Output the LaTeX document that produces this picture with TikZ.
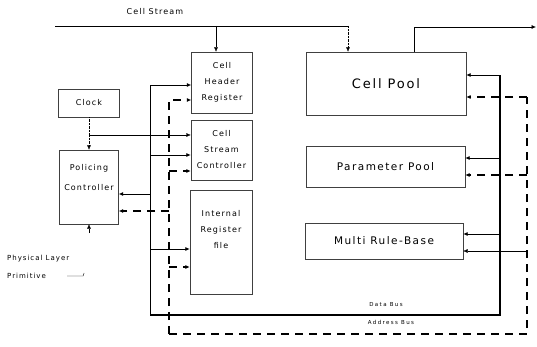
\documentclass[tikz,border=0pt]{standalone}
\usepackage{fontspec}
\setmainfont{DejaVu Sans}
\newfontfamily\spacedfont[LetterSpace=14]{DejaVu Sans}
\newfontfamily\widefont[LetterSpace=25]{DejaVu Sans}
\usetikzlibrary{arrows.meta,calc}
\tikzset{
  blk/.style={draw=black!75, thin, inner sep=0pt, align=center, font=\spacedfont\fontsize{8}{16}\selectfont},
  poolblk/.style={blk, font=\spacedfont\fontsize{10.5}{12}\selectfont},
  note/.style={inner sep=0pt, font=\spacedfont\fontsize{7}{9}\selectfont},
  busnote/.style={inner sep=0pt, font=\widefont\fontsize{5.5}{7}\selectfont},
  dbus/.style={draw=black, line width=1.3pt},
  dline/.style={draw=black, line width=0.8pt},
  abus/.style={draw=black, line width=1.2pt, dash pattern=on 8pt off 6pt},
  arrow/.style={-{Latex[length=4.5pt,width=4pt]}}
}

\begin{document}
\begin{tikzpicture}[x=1pt, y=-1pt]
  \useasboundingbox (0,0) rectangle (537,347);
  \node[blk, minimum width=61pt, minimum height=28pt] (clk) at (89,103) {Clock};
  \node[blk, minimum width=59pt, minimum height=74pt, text depth=20pt] (pol) at (89,187) {Policing\\[4pt]Controller};
  \node[blk, minimum width=61pt, minimum height=61pt] (hdr) at (222,82.5) {Cell\\Header\\Register};
  \node[blk, minimum width=61pt, minimum height=60pt] (csc) at (221.5,150) {Cell\\Stream\\Controller};
  \node[blk, minimum width=62pt, minimum height=104pt, text depth=26pt] (irf) at (221,242) {Internal\\Register\\file};
  \node[poolblk, minimum width=160pt, minimum height=63pt, font=\spacedfont\fontsize{13}{15}\selectfont] (pool) at (386,83.5) {Cell Pool};
  \node[poolblk, minimum width=159pt, minimum height=41pt] (ppool) at (385.5,166.5) {Parameter Pool};
  \node[poolblk, minimum width=158pt, minimum height=36pt] (mrb) at (384,241) {Multi Rule-Base};
  \node[note, font=\spacedfont\fontsize{8}{9}\selectfont] (cslbl) at (155,12) {Cell Stream};
  \node[note, anchor=west] (phys) at (7,259) {Physical Layer};
  \node[note, anchor=west] (prim) at (7,276) {Primitive};
  \node[busnote] (dlbl) at (386,305) {Data Bus};
  \node[busnote] (albl) at (391,322) {Address Bus};

  \coordinate (csA) at (55,26);
  \coordinate (csB) at (348,26);
  \coordinate (csH) at (216,26);
  \coordinate (poA) at (414,27);
  \coordinate (poB) at (536,27);
  \coordinate (ck) at (89,135);
  \coordinate (pin) at (89,233);

  \coordinate (dtl) at (150,85);
  \coordinate (dbl) at (150,315);
  \coordinate (dbr) at (500,315);
  \coordinate (dtr) at (500,75);
  \coordinate (dcs) at (150,155);
  \coordinate (dpc) at (150,194);
  \coordinate (dir) at (150,249);
  \coordinate (dpp) at (500,158);
  \coordinate (dmr) at (500,234);

  \coordinate (atl) at (169,100);
  \coordinate (abl) at (169,334);
  \coordinate (abr) at (527,334);
  \coordinate (atr) at (527,97);
  \coordinate (acs) at (169,171);
  \coordinate (apc) at (169,211);
  \coordinate (air) at (169,267);
  \coordinate (app) at (527,175);
  \coordinate (amr) at (527,251);

  \draw[thin] (csA) -- (csB);
  \draw[thin, densely dotted, arrow] (csB) -- (csB |- pool.north);
  \draw[thin, arrow] (csH) -- (csH |- hdr.north);
  \draw[semithick, arrow] (poA |- pool.north) -- (poA) -- (poB);

  \draw[thin, densely dotted] (clk.south) -- (ck);
  \draw[thin, densely dotted, arrow] (ck) -- (pol.north);
  \draw[thin, arrow] (ck) -- (ck -| csc.west);
  \draw[thin, arrow] (pin) -- (pol.south);
  \draw[thin] ([xshift=21pt]prim.east) -- ++(16,0) -- ++(1,-3);

  \draw[dline, arrow] (dbl) -- (dtl) -- (dtl -| hdr.west);
  \draw[dbus] (dbl) -- (dbr) -- (dtr);
  \draw[dline, arrow] (dtr) -- (dtr -| pool.east);
  \draw[dline, arrow] (dcs) -- (dcs -| csc.west);
  \draw[dline, arrow] (dpc) -- (dpc -| pol.east);
  \draw[dline, arrow] (dir) -- (dir -| irf.west);
  \draw[dline, arrow] (dpp) -- (dpp -| ppool.east);
  \draw[dline, arrow] (dmr) -- (dmr -| mrb.east);

  \draw[abus, arrow] (abl) -- (atl) -- (atl -| hdr.west);
  \draw[abus] (abl) -- (abr) -- (atr);
  \draw[abus, arrow] (atr) -- (atr -| pool.east);
  \draw[abus, arrow] (acs) -- (acs -| csc.west);
  \draw[abus, arrow] (apc) -- (apc -| pol.east);
  \draw[abus, arrow] (air) -- (air -| irf.west);
  \draw[abus, arrow] (app) -- (app -| ppool.east);
  \draw[thin, arrow] (amr) -- (amr -| mrb.east);
\end{tikzpicture}
\end{document}
